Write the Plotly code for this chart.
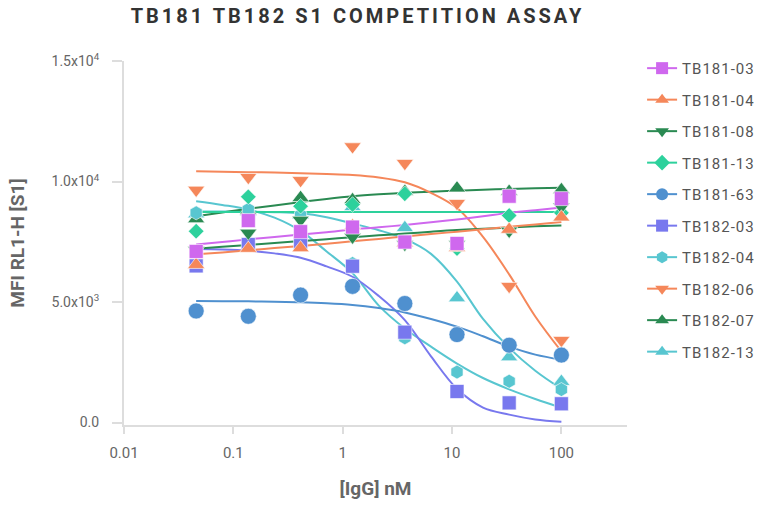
import plotly.graph_objects as go

# ---------------- data ----------------
series_names = ["TB181-03", "TB181-04", "TB181-08", "TB181-13", "TB181-63",
                "TB182-03", "TB182-04", "TB182-06", "TB182-07", "TB182-13"]

# measured dose points ([IgG] nM, 3-fold dilution)
dose = [0.0457, 0.137, 0.412, 1.23, 3.70, 11.1, 33.3, 100]

mfi_tb181_03 = [7100, 8380, 7920, 8110, 7490, 7430, 9390, 9290]
mfi_tb181_04 = [6550, 7220, 7245, 8170, 7450, 7250, 8010, 8520]
mfi_tb181_08 = [7150, 7870, 8400, 7700, 7400, 7400, 7950, 8950]
mfi_tb181_13 = [7940, 9367, 8977, 9047, 9491, 7220, 8590, 8700]
mfi_tb181_63 = [4630, 4410, 5290, 5650, 4940, 3650, 3210, 2800]
mfi_tb182_03 = [6500, 7387, 7480, 6487, 3750, 1290, 817, 780]
mfi_tb182_04 = [8700, 8840, 8600, 6600, 3520, 2095, 1714, 1370]
mfi_tb182_06 = [9650, 10180, 10050, 11450, 10760, 9100, 5660, 3420]
mfi_tb182_07 = [8450, 8800, 9330, 9240, 9587, 9724, 9587, 9657]
mfi_tb182_13 = [8650, 8750, 8600, 8950, 8080, 5170, 2720, 1700]

# fitted curves at half-dilution steps
fit_x = [0.0457, 0.0791, 0.137, 0.238, 0.412, 0.713, 1.23, 2.14,
         3.70, 6.42, 11.1, 19.2, 33.3, 57.7, 100]

fit_tb181_03 = [7390, 7490, 7600, 7700, 7800, 7900, 8010, 8100, 8200, 8310, 8425, 8560, 8700, 8810, 8920]
fit_tb181_04 = [6980, 7060, 7150, 7240, 7330, 7420, 7520, 7620, 7720, 7820, 7920, 8020, 8120, 8220, 8320]
fit_tb181_08 = [7210, 7290, 7370, 7450, 7530, 7610, 7690, 7770, 7840, 7920, 7990, 8040, 8090, 8140, 8180]
fit_tb181_13 = [8740, 8740, 8740, 8740, 8740, 8740, 8740, 8740, 8740, 8740, 8740, 8740, 8740, 8740, 8740]
fit_tb181_63 = [5040, 5035, 5030, 5010, 4990, 4950, 4880, 4750, 4570, 4300, 3980, 3580, 3150, 2820, 2610]
fit_tb182_03 = [7200, 7180, 7130, 7020, 6840, 6480, 6050, 5250, 4250, 2750, 1400, 620, 330, 130, 30]
fit_tb182_04 = [9185, 9030, 8840, 8500, 7950, 7100, 6200, 4850, 3900, 3150, 2450, 1850, 1380, 980, 620]
fit_tb182_06 = [10430, 10410, 10390, 10370, 10340, 10310, 10270, 10170, 9970, 9530, 8900, 7700, 6150, 4400, 2950]
fit_tb182_07 = [8560, 8720, 8870, 9010, 9150, 9280, 9390, 9470, 9530, 9580, 9620, 9660, 9690, 9720, 9740]
fit_tb182_13 = [8760, 8760, 8750, 8730, 8680, 8520, 8260, 7980, 7620, 7000, 5850, 4300, 3100, 2150, 1400]

points = [mfi_tb181_03, mfi_tb181_04, mfi_tb181_08, mfi_tb181_13, mfi_tb181_63,
          mfi_tb182_03, mfi_tb182_04, mfi_tb182_06, mfi_tb182_07, mfi_tb182_13]
fits = [fit_tb181_03, fit_tb181_04, fit_tb181_08, fit_tb181_13, fit_tb181_63,
        fit_tb182_03, fit_tb182_04, fit_tb182_06, fit_tb182_07, fit_tb182_13]

x_tick_vals = [0.01, 0.1, 1, 10, 100]
x_tick_text = ["0.01", "0.1", "1", "10", "100"]
y_tick_vals = [0, 5000, 10000, 15000]
y_tick_text = ["0.0", "5.0x10<sup>3</sup>", "1.0x10<sup>4</sup>", "1.5x10<sup>4</sup>"]

# ---------------- styles ----------------
colors = ["#CF68EE", "#F5875A", "#2A8A52", "#2DD19C", "#4F90CF",
          "#7878EE", "#58C6D0", "#F5875A", "#2A8A52", "#58C6D0"]
symbols = ["square", "triangle-up", "triangle-down", "diamond", "circle",
           "square", "hexagon", "triangle-down", "triangle-up", "triangle-up"]
sizes = [14, 15, 15, 12, 16, 14, 14, 15, 15, 15]

FONT = "Roboto"
GREY = "#666666"

W, H = 768, 512

fig = go.Figure()

# legend-only entries (in legend order)
for i, name in enumerate(series_names):
    fig.add_trace(go.Scatter(
        x=[None], y=[None], name="<span style='letter-spacing:1px'>" + name + "</span>",
        mode="lines+markers", legendgroup=name,
        line=dict(color=colors[i], width=2),
        marker=dict(color=colors[i], symbol=symbols[i], size=12),
        showlegend=True, hoverinfo="skip"))

# fitted curves (reverse order)
for i in reversed(range(len(series_names))):
    fig.add_trace(go.Scatter(
        x=fit_x, y=fits[i], mode="lines", line=dict(color=colors[i], width=2, shape="spline"),
        legendgroup=series_names[i], showlegend=False, hoverinfo="skip"))

# data points (reverse order so TB181-03 is on top)
for i in reversed(range(len(series_names))):
    fig.add_trace(go.Scatter(
        x=dose, y=points[i], mode="markers", name=series_names[i],
        marker=dict(color=colors[i], symbol=symbols[i], size=sizes[i],
                    line=dict(color="rgba(255,255,255,0.6)", width=1)),
        legendgroup=series_names[i], showlegend=False))

fig.update_layout(
    width=W, height=H,
    margin=dict(l=124, r=141, t=61, b=87, autoexpand=False),
    paper_bgcolor="white", plot_bgcolor="white",
    font=dict(family=FONT, color=GREY, size=14),
    title=dict(text="<span style='letter-spacing:3px'><b>TB181 TB182 S1 COMPETITION ASSAY</b></span>",
               font=dict(family=FONT, size=20, color="#333333"),
               x=357.5 / W, xref="container", xanchor="center",
               y=1 - 16 / H, yref="container", yanchor="middle"),
    legend=dict(x=1.03, xanchor="left", y=1.025, yanchor="top",
                font=dict(family=FONT, size=15, color="#555555"),
                tracegroupgap=9, bgcolor="rgba(0,0,0,0)", maxheight=1.0),
    showlegend=True,
)

fig.update_xaxes(
    type="log", range=[-2, 2.6], automargin=False,
    tickvals=x_tick_vals, ticktext=x_tick_text,
    showgrid=False, zeroline=False,
    showline=True, linecolor="#DDDDDD", linewidth=2,
    ticks="outside", ticklen=7, tickwidth=2, tickcolor="#DDDDDD",
    ticklabelstandoff=6,
    tickfont=dict(family=FONT, size=15, color=GREY),
    title=dict(text="<b>[IgG] nM</b>", font=dict(family=FONT, size=19, color=GREY), standoff=21),
)
fig.update_yaxes(
    range=[-100, 15000], automargin=False,
    tickvals=y_tick_vals, ticktext=y_tick_text,
    showgrid=False, zeroline=False,
    showline=True, linecolor="#DDDDDD", linewidth=2,
    ticks="outside", ticklen=10, tickwidth=2, tickcolor="#DDDDDD",
    ticklabelstandoff=10,
    tickfont=dict(family=FONT, size=14, color=GREY),
    title=dict(text="<b>MFI RL1-H [S1]</b>", font=dict(family=FONT, size=19, color=GREY), standoff=22),
)

# remove the browser's default 8px body margin so the figure fills the window
fig.write_html("out.html", config={"displayModeBar": False},
               post_script="document.body.style.margin='0px';")
